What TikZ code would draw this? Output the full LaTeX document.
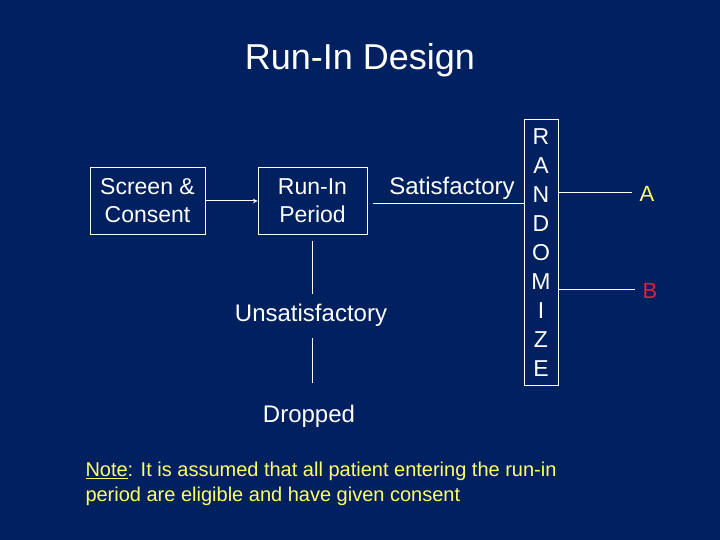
\documentclass[tikz,border=0pt]{standalone}
\usepackage{fontspec}
\setmainfont{Liberation Sans}
\definecolor{slidebg}{RGB}{0,32,96}
\definecolor{noteyellow}{RGB}{255,255,102}
\definecolor{armred}{RGB}{225,30,60}

\begin{document}
\begin{tikzpicture}[x=1pt,y=-1pt,white,line width=1pt,
  box/.style={draw,inner sep=0pt,align=center,font=\fontsize{23}{28}\selectfont},
  lbl/.style={font=\fontsize{24}{28}\selectfont},
  arm/.style={font=\fontsize{22}{26}\selectfont}]
	%BACKGROUND
	\fill[slidebg] (0,0) rectangle (720,540);
	\node[font=\fontsize{36}{42}\selectfont] (title) at (360,60) {Run-In Design};
	
	%BOXES
	\node[box,minimum width=115,minimum height=66] (screen) at (147.5,201) {Screen \&\\Consent};
	\node[box,minimum width=109,minimum height=66] (runin) at (312.5,201) {Run-In\\Period};
	\node[box,minimum width=34,minimum height=265,font=\fontsize{23}{28.9}\selectfont] (rand) at (541,252.5)
		{R\\A\\N\\D\\O\\M\\I\\Z\\E};
	
	%LABELS
	\node[lbl] (sat) at (452,188) {Satisfactory};
	\node[lbl] (unsat) at (311,315) {Unsatisfactory};
	\node[lbl] (drop) at (309,416) {Dropped};
	\node[arm,noteyellow] (a) at (647,194) {A};
	\node[arm,armred] (b) at (650,291) {B};
	
	%ARCS
	\draw[->,>=stealth] (screen) -- (runin);
	\draw[shorten <=5pt] ([yshift=-3pt]runin.east) -- ([yshift=-3pt]runin.east -| rand.west);
	\draw ([yshift=1pt]rand.east |- a.west) -- ([shift={(-4pt,1pt)}]a.west);
	\draw ([yshift=2pt]rand.east |- b.west) -- ([shift={(-4pt,2pt)}]b.west);
	\draw[shorten <=6pt,shorten >=6pt] (runin.south) -- (runin.south |- unsat.north);
	\draw[shorten <=8pt,shorten >=18pt] (runin.south |- unsat.south) -- (runin.south |- drop.north);
	
	%NOTE
	\node[noteyellow,anchor=north west,align=left,inner sep=0pt,
		font=\fontsize{20}{25}\selectfont] (note) at (85,462)
		{\underline{Note}: It is assumed that all patient entering the run-in\\period are eligible and have given consent};
\end{tikzpicture}
\end{document}
